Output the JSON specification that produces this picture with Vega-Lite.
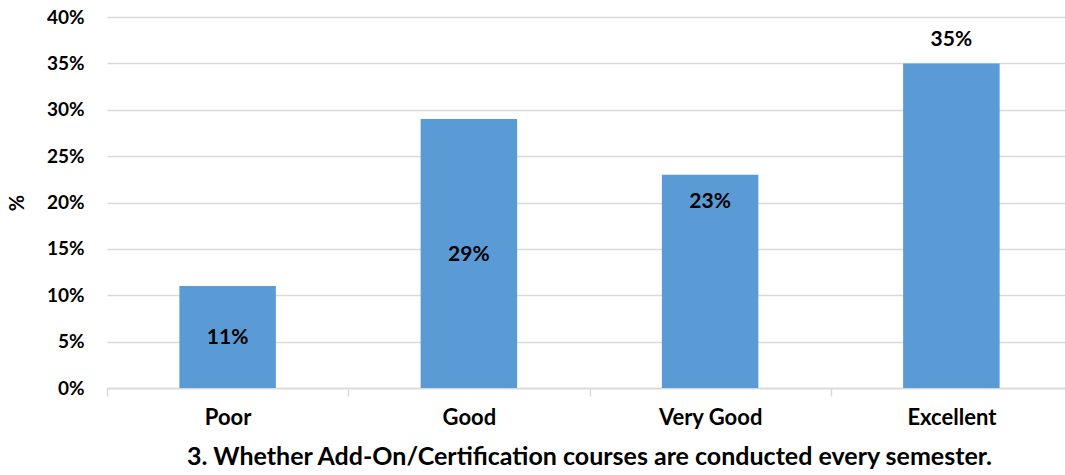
{
  "$schema": "https://vega.github.io/schema/vega-lite/v6.json",
  "width": 958,
  "height": 371,
  "autosize": {"type": "none"},
  "padding": {"left": 107, "top": 17, "right": 0, "bottom": 87},
  "background": "white",
  "config": {
    "view": {"stroke": null},
    "font": "Lato",
    "text": {"font": "Lato"}
  },
  "data": {
    "values": [
      {"rating": "Poor", "pct": 0.11},
      {"rating": "Good", "pct": 0.29},
      {"rating": "Very Good", "pct": 0.23},
      {"rating": "Excellent", "pct": 0.35}
    ]
  },
  "encoding": {
    "x": {
      "field": "rating",
      "type": "nominal",
      "sort": null,
      "scale": {"paddingInner": 0, "paddingOuter": 0, "range": [0, 965]},
      "axis": {
        "title": "3. Whether Add-On/Certification courses are conducted every semester.",
        "titleFont": "Lato",
        "titleFontSize": 25,
        "titleFontWeight": "bold",
        "titleColor": "black",
        "titlePadding": 16,
        "titleX": 482,
        "labelAngle": 0,
        "labelFont": "Lato",
        "labelFontSize": 22,
        "labelFontWeight": "bold",
        "labelColor": "black",
        "labelPadding": 11,
        "tickBand": "extent",
        "tickSize": 8,
        "tickColor": "#D9D9D9",
        "tickWidth": 1.5,
        "domainColor": "#D9D9D9",
        "domainWidth": 1.5
      }
    }
  },
  "layer": [
    {
      "mark": {"type": "bar", "color": "#5B9BD5", "width": {"band": 0.4}},
      "encoding": {
        "y": {
          "field": "pct",
          "type": "quantitative",
          "scale": {"domain": [0, 0.4]},
          "axis": {
            "title": "%",
            "titleFont": "Lato",
            "titleFontSize": 20,
            "titleFontWeight": "bold",
            "titleColor": "black",
            "titleX": -80,
            "values": [0, 0.05, 0.1, 0.15, 0.2, 0.25, 0.3, 0.35, 0.4],
            "format": ".0%",
            "labelFont": "Lato",
            "labelFontSize": 19,
            "labelFontWeight": "bold",
            "labelColor": "black",
            "labelPadding": 23,
            "tickSize": 0,
            "domain": false,
            "grid": true,
            "gridColor": "#D9D9D9",
            "gridWidth": 1.5
          }
        }
      }
    },
    {
      "transform": [
        {"filter": "datum.rating == 'Poor' || datum.rating == 'Good'"},
        {"calculate": "datum.pct / 2", "as": "mid"}
      ],
      "mark": {"type": "text", "fontSize": 21, "fontWeight": "bold", "color": "black", "baseline": "middle", "dy": 1},
      "encoding": {
        "y": {"field": "mid", "type": "quantitative"},
        "text": {"field": "pct", "type": "quantitative", "format": ".0%"}
      }
    },
    {
      "transform": [{"filter": "datum.rating == 'Very Good'"}],
      "mark": {"type": "text", "fontSize": 21, "fontWeight": "bold", "color": "black", "baseline": "middle", "dy": 27},
      "encoding": {
        "y": {"field": "pct", "type": "quantitative"},
        "text": {"field": "pct", "type": "quantitative", "format": ".0%"}
      }
    },
    {
      "transform": [{"filter": "datum.rating == 'Excellent'"}],
      "mark": {"type": "text", "fontSize": 21, "fontWeight": "bold", "color": "black", "baseline": "middle", "dy": -23},
      "encoding": {
        "y": {"field": "pct", "type": "quantitative"},
        "text": {"field": "pct", "type": "quantitative", "format": ".0%"}
      }
    }
  ]
}
